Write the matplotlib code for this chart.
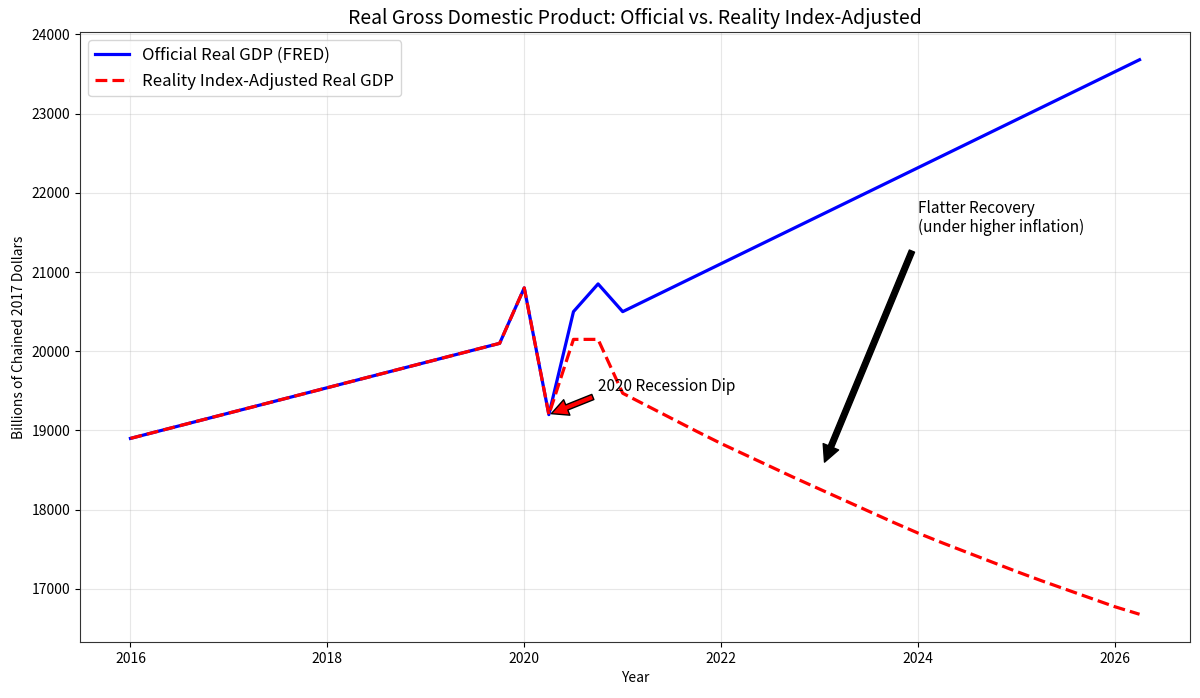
import matplotlib
matplotlib.use("Agg")
import matplotlib.pyplot as plt

plt.rcParams['font.family'] = ['Noto Sans CJK SC', 'DejaVu Sans']

# Official real GDP (FRED) - billions of chained 2017 dollars
official_years = [2016.0, 2019.75, 2020.0, 2020.25, 2020.5, 2020.75, 2021.0, 2026.25]
official_gdp = [18900, 20100, 20800, 19200, 20500, 20850, 20500, 23680]

# Reality index-adjusted real GDP
adjusted_years = [2016.0, 2019.75, 2020.0, 2020.25, 2020.5, 2020.75,
                  2021.0, 2021.25, 2021.5, 2021.75,
                  2022.0, 2022.25, 2022.5, 2022.75,
                  2023.0, 2023.25, 2023.5, 2023.75,
                  2024.0, 2024.25, 2024.5, 2024.75,
                  2025.0, 2025.25, 2025.5, 2025.75,
                  2026.0, 2026.25]
adjusted_gdp = [18900, 20100, 20800, 19200, 20150, 20150,
                19470, 19310, 19150, 18990,
                18835, 18690, 18545, 18400,
                18260, 18120, 17980, 17840,
                17705, 17580, 17460, 17340,
                17220, 17105, 16995, 16885,
                16775, 16680]

title = "Real Gross Domestic Product: Official vs. Reality Index-Adjusted"
xlabel = "Year"
ylabel = "Billions of Chained 2017 Dollars"
label_official = "Official Real GDP (FRED)"
label_adjusted = "Reality Index-Adjusted Real GDP"
note_dip = "2020 Recession Dip"
note_dip_point = (2020.25, 19200)
note_dip_text = (2020.75, 19500)
note_flat = "Flatter Recovery\n(under higher inflation)"
note_flat_point = (2023.0, 18450)
note_flat_text = (2024.0, 21500)

fig = plt.figure(figsize=(12, 6.98), dpi=100)
ax = fig.add_axes([80/1200, 1-642/698, 1110/1200, 610/698])

ax.plot(official_years, official_gdp, color='blue', lw=2.3, label=label_official)
ax.plot(adjusted_years, adjusted_gdp, color='red', lw=2.3, ls='--', label=label_adjusted)

ax.annotate(note_dip, xy=note_dip_point, xytext=note_dip_text, fontsize=11.1,
            arrowprops=dict(facecolor='red', shrink=0.05))
ax.annotate(note_flat, xy=note_flat_point, xytext=note_flat_text, fontsize=11.1,
            arrowprops=dict(facecolor='black', shrink=0.05))

ax.set_title(title, fontsize=14)
ax.set_xlabel(xlabel, fontsize=10)
ax.set_ylabel(ylabel, fontsize=10)
ax.tick_params(labelsize=10)
ax.grid(True, alpha=0.3)
ax.legend(loc='upper left', fontsize=12.1)
for s in ax.spines.values():
    s.set_color('#333333')

fig.savefig("out.png", dpi=100)
